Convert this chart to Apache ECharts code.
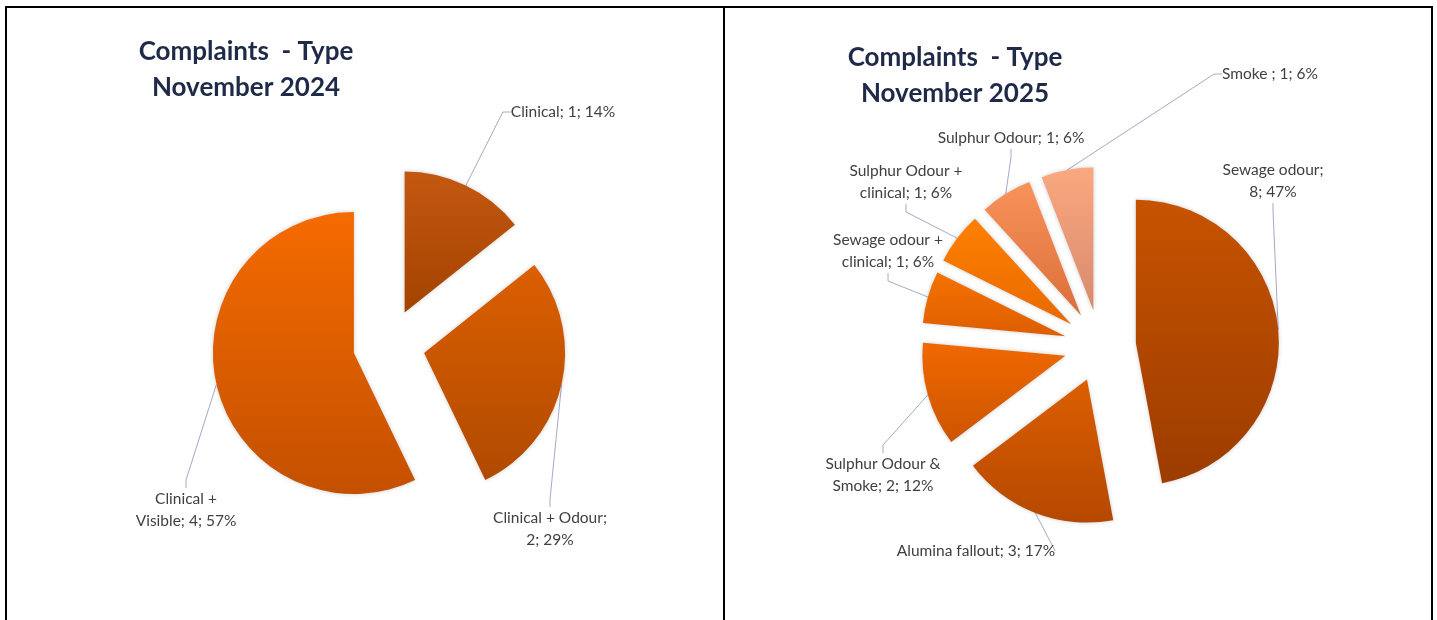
<!DOCTYPE html>
<html>
<head>
<meta charset="utf-8">
<title>Complaints - Type</title>
<script src="https://cdn.jsdelivr.net/npm/echarts@6/dist/echarts.min.js"></script>
<style>
  html, body { margin: 0; padding: 0; background: #fff; }
  #main { width: 1437px; height: 620px; }
</style>
</head>
<body>
<div id="main"></div>
<script>
// November 2024
const types2024 = ['Clinical', 'Clinical + Odour', 'Clinical + Visible'];
const counts2024 = [1, 2, 4];
const pct2024 = ['14%', '29%', '57%'];

// November 2025
const types2025 = ['Sewage odour', 'Alumina fallout', 'Sulphur Odour & Smoke', 'Sewage odour + clinical',
  'Sulphur Odour + clinical', 'Sulphur Odour', 'Smoke '];
const counts2025 = [8, 3, 2, 1, 1, 1, 1];
const pct2025 = ['47%', '17%', '12%', '6%', '6%', '6%', '6%'];

// gradient top / bottom per slice
const colors2024 = [['#c45811', '#a34300'], ['#dc5f00', '#b04a00'], ['#f56b00', '#c45000']];
const colors2025 = [['#c75300', '#9c3c00'], ['#dc5f00', '#b54800'], ['#f06800', '#cc5500'],
  ['#f57200', '#dd5e00'], ['#ff8000', '#e86a00'], ['#f8935a', '#db6e3a'], ['#fba880', '#d88a6c']];

// where excel put the labels (center of text block) and where it wrapped them
const labelSpots2024 = [
  { x: 563, y: 112 },
  { x: 550, y: 529, brk: 'Odour;' },
  { x: 186, y: 510, brk: 'Clinical +' }
];
const labelSpots2025 = [
  { x: 1273, y: 181, brk: 'odour;' },
  { x: 976, y: 551 },
  { x: 883, y: 475, brk: '&' },
  { x: 888, y: 251, brk: '+' },
  { x: 906, y: 182, brk: '+' },
  { x: 1011, y: 138 },
  { x: 1270, y: 74 }
];

const EXPLODE = 36;

// the visible, exploded slices
const makeSlices = (names, values, colors, center, radius) => ({
  type: 'pie',
  center: center,
  radius: radius,
  startAngle: 90,
  clockwise: true,
  selectedMode: 'multiple',
  selectedOffset: EXPLODE,
  silent: true,
  z: 3,
  itemStyle: {
    borderWidth: 0,
    shadowBlur: 4,
    shadowColor: 'rgba(0,0,0,0.2)'
  },
  label: { show: false },
  labelLine: { show: false },
  data: names.map((n, i) => ({
    name: n,
    value: values[i],
    selected: true,
    itemStyle: {
      color: new echarts.graphic.LinearGradient(0, 0, 0, 1, [
        { offset: 0, color: colors[i][0] },
        { offset: 1, color: colors[i][1] }
      ])
    }
  }))
});

// invisible copy, radius reaching the exploded arc, only carries labels + leader lines
const makeLabels = (names, values, pcts, spots, center, radius) => ({
  type: 'pie',
  center: center,
  radius: radius + EXPLODE,
  startAngle: 90,
  clockwise: true,
  silent: true,
  z: 2,
  avoidLabelOverlap: false,
  itemStyle: { color: 'rgba(0,0,0,0)', borderWidth: 0 },
  label: {
    show: true,
    position: 'outside',
    color: '#404040',
    fontFamily: 'Lato',
    fontSize: 15.5,
    lineHeight: 22,
    align: 'center',
    formatter: (p) => {
      let txt = p.name + '; ' + p.value + '; ' + pcts[p.dataIndex];
      const brk = spots[p.dataIndex].brk;
      if (brk) {
        const k = txt.indexOf(brk) + brk.length;
        txt = txt.slice(0, k) + '\n' + txt.slice(k).trim();
      }
      return txt;
    }
  },
  labelLine: {
    show: true,
    length: 8,
    length2: 8,
    lineStyle: { color: '#a3aac8', width: 1 }
  },
  labelLayout: (p) => ({
    x: spots[p.dataIndex].x,
    y: spots[p.dataIndex].y,
    align: 'center',
    verticalAlign: 'middle'
  }),
  data: names.map((n, i) => ({ name: n, value: values[i] }))
});

const titleStyle = {
  color: '#1f2a48',
  fontFamily: 'Lato',
  fontWeight: 'bold',
  fontSize: 26,
  lineHeight: 36
};

const border = (x1, y1, x2, y2) => ({
  type: 'line',
  shape: { x1, y1, x2, y2 },
  style: { stroke: '#000', lineWidth: 2 },
  silent: true
});

const chart = echarts.init(document.getElementById('main'), null, { renderer: 'canvas' });
chart.setOption({
  animation: false,
  backgroundColor: '#fff',
  title: [
    { text: 'Complaints  - Type\nNovember 2024', left: 246, top: 34, padding: 0, textAlign: 'center', textStyle: titleStyle },
    { text: 'Complaints  - Type\nNovember 2025', left: 955, top: 40, padding: 0, textAlign: 'center', textStyle: titleStyle }
  ],
  graphic: [
    border(5, 7, 1433, 7),
    border(6, 6, 6, 620),
    border(724, 6, 724, 620),
    border(1432, 6, 1432, 620)
  ],
  series: [
    makeLabels(types2024, counts2024, pct2024, labelSpots2024, [389, 345], 141),
    makeSlices(types2024, counts2024, colors2024, [389, 345], 141),
    makeLabels(types2025, counts2025, pct2025, labelSpots2025, [1100, 346], 143),
    makeSlices(types2025, counts2025, colors2025, [1100, 346], 143)
  ]
});
</script>
</body>
</html>
